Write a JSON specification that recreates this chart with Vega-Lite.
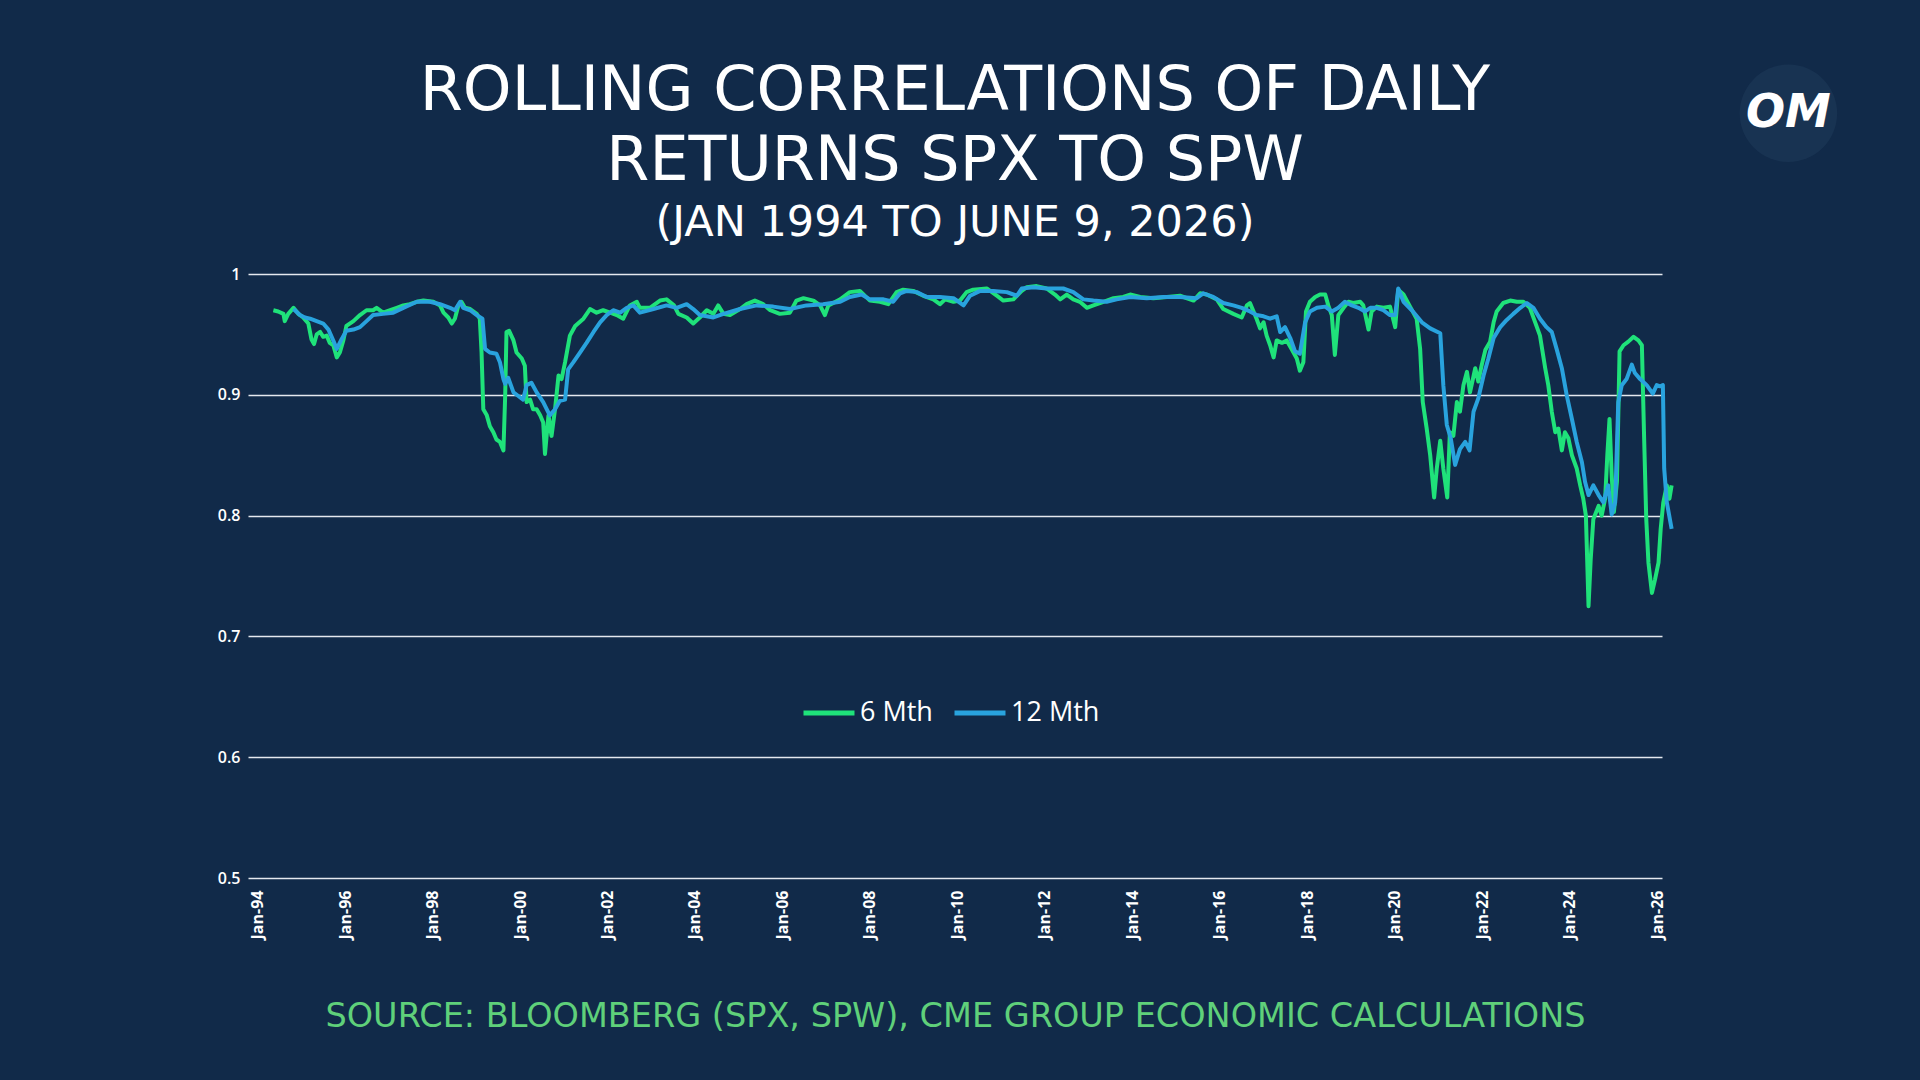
{
  "$schema": "https://vega.github.io/schema/vega-lite/v6.json",
  "width": 1414,
  "height": 604,
  "autosize": "none",
  "padding": {"left": 248, "top": 274, "right": 258, "bottom": 202},
  "background": "#112a49",
  "title": {
    "text": ["ROLLING CORRELATIONS OF DAILY", "RETURNS SPX TO SPW"],
    "subtitle": "(JAN 1994 TO JUNE 9, 2026)",
    "anchor": "middle",
    "color": "#ffffff",
    "font": "DejaVu Sans",
    "fontSize": 62,
    "fontWeight": "normal",
    "lineHeight": 70,
    "subtitleColor": "#ffffff",
    "subtitleFont": "DejaVu Sans",
    "subtitleFontSize": 43,
    "subtitlePadding": 9,
    "offset": -181
  },
  "layer": [
    {
      "data": {
        "values": [
          {"series": "6 Mth", "year": 1994.36, "corr": 0.970},
          {"series": "6 Mth", "year": 1994.47, "corr": 0.969},
          {"series": "6 Mth", "year": 1994.59, "corr": 0.967},
          {"series": "6 Mth", "year": 1994.62, "corr": 0.961},
          {"series": "6 Mth", "year": 1994.70, "corr": 0.967},
          {"series": "6 Mth", "year": 1994.82, "corr": 0.972},
          {"series": "6 Mth", "year": 1994.93, "corr": 0.967},
          {"series": "6 Mth", "year": 1995.04, "corr": 0.964},
          {"series": "6 Mth", "year": 1995.16, "corr": 0.959},
          {"series": "6 Mth", "year": 1995.23, "corr": 0.946},
          {"series": "6 Mth", "year": 1995.29, "corr": 0.942},
          {"series": "6 Mth", "year": 1995.35, "corr": 0.950},
          {"series": "6 Mth", "year": 1995.43, "corr": 0.952},
          {"series": "6 Mth", "year": 1995.50, "corr": 0.948},
          {"series": "6 Mth", "year": 1995.58, "corr": 0.949},
          {"series": "6 Mth", "year": 1995.65, "corr": 0.943},
          {"series": "6 Mth", "year": 1995.73, "corr": 0.941},
          {"series": "6 Mth", "year": 1995.81, "corr": 0.931},
          {"series": "6 Mth", "year": 1995.88, "corr": 0.935},
          {"series": "6 Mth", "year": 1995.96, "corr": 0.945},
          {"series": "6 Mth", "year": 1996.03, "corr": 0.957},
          {"series": "6 Mth", "year": 1996.19, "corr": 0.961},
          {"series": "6 Mth", "year": 1996.34, "corr": 0.966},
          {"series": "6 Mth", "year": 1996.49, "corr": 0.970},
          {"series": "6 Mth", "year": 1996.64, "corr": 0.970},
          {"series": "6 Mth", "year": 1996.72, "corr": 0.972},
          {"series": "6 Mth", "year": 1996.87, "corr": 0.968},
          {"series": "6 Mth", "year": 1997.03, "corr": 0.970},
          {"series": "6 Mth", "year": 1997.18, "corr": 0.972},
          {"series": "6 Mth", "year": 1997.33, "corr": 0.974},
          {"series": "6 Mth", "year": 1997.48, "corr": 0.975},
          {"series": "6 Mth", "year": 1997.64, "corr": 0.977},
          {"series": "6 Mth", "year": 1997.79, "corr": 0.978},
          {"series": "6 Mth", "year": 1998.02, "corr": 0.977},
          {"series": "6 Mth", "year": 1998.17, "corr": 0.974},
          {"series": "6 Mth", "year": 1998.25, "corr": 0.968},
          {"series": "6 Mth", "year": 1998.36, "corr": 0.964},
          {"series": "6 Mth", "year": 1998.44, "corr": 0.959},
          {"series": "6 Mth", "year": 1998.51, "corr": 0.963},
          {"series": "6 Mth", "year": 1998.59, "corr": 0.974},
          {"series": "6 Mth", "year": 1998.66, "corr": 0.977},
          {"series": "6 Mth", "year": 1998.74, "corr": 0.972},
          {"series": "6 Mth", "year": 1998.86, "corr": 0.971},
          {"series": "6 Mth", "year": 1999.01, "corr": 0.967},
          {"series": "6 Mth", "year": 1999.08, "corr": 0.963},
          {"series": "6 Mth", "year": 1999.12, "corr": 0.935},
          {"series": "6 Mth", "year": 1999.16, "corr": 0.888},
          {"series": "6 Mth", "year": 1999.24, "corr": 0.883},
          {"series": "6 Mth", "year": 1999.31, "corr": 0.874},
          {"series": "6 Mth", "year": 1999.39, "corr": 0.869},
          {"series": "6 Mth", "year": 1999.46, "corr": 0.863},
          {"series": "6 Mth", "year": 1999.54, "corr": 0.861},
          {"series": "6 Mth", "year": 1999.62, "corr": 0.854},
          {"series": "6 Mth", "year": 1999.66, "corr": 0.899},
          {"series": "6 Mth", "year": 1999.69, "corr": 0.952},
          {"series": "6 Mth", "year": 1999.75, "corr": 0.953},
          {"series": "6 Mth", "year": 1999.85, "corr": 0.945},
          {"series": "6 Mth", "year": 1999.92, "corr": 0.935},
          {"series": "6 Mth", "year": 2000.04, "corr": 0.930},
          {"series": "6 Mth", "year": 2000.11, "corr": 0.924},
          {"series": "6 Mth", "year": 2000.15, "corr": 0.894},
          {"series": "6 Mth", "year": 2000.23, "corr": 0.896},
          {"series": "6 Mth", "year": 2000.30, "corr": 0.888},
          {"series": "6 Mth", "year": 2000.38, "corr": 0.888},
          {"series": "6 Mth", "year": 2000.46, "corr": 0.883},
          {"series": "6 Mth", "year": 2000.53, "corr": 0.877},
          {"series": "6 Mth", "year": 2000.57, "corr": 0.851},
          {"series": "6 Mth", "year": 2000.65, "corr": 0.883},
          {"series": "6 Mth", "year": 2000.72, "corr": 0.866},
          {"series": "6 Mth", "year": 2000.80, "corr": 0.888},
          {"series": "6 Mth", "year": 2000.88, "corr": 0.916},
          {"series": "6 Mth", "year": 2000.95, "corr": 0.913},
          {"series": "6 Mth", "year": 2001.03, "corr": 0.927},
          {"series": "6 Mth", "year": 2001.14, "corr": 0.949},
          {"series": "6 Mth", "year": 2001.26, "corr": 0.957},
          {"series": "6 Mth", "year": 2001.45, "corr": 0.963},
          {"series": "6 Mth", "year": 2001.60, "corr": 0.971},
          {"series": "6 Mth", "year": 2001.75, "corr": 0.968},
          {"series": "6 Mth", "year": 2001.90, "corr": 0.970},
          {"series": "6 Mth", "year": 2002.06, "corr": 0.968},
          {"series": "6 Mth", "year": 2002.21, "corr": 0.966},
          {"series": "6 Mth", "year": 2002.36, "corr": 0.963},
          {"series": "6 Mth", "year": 2002.51, "corr": 0.974},
          {"series": "6 Mth", "year": 2002.67, "corr": 0.977},
          {"series": "6 Mth", "year": 2002.74, "corr": 0.972},
          {"series": "6 Mth", "year": 2002.97, "corr": 0.972},
          {"series": "6 Mth", "year": 2003.20, "corr": 0.978},
          {"series": "6 Mth", "year": 2003.35, "corr": 0.979},
          {"series": "6 Mth", "year": 2003.52, "corr": 0.974},
          {"series": "6 Mth", "year": 2003.62, "corr": 0.967},
          {"series": "6 Mth", "year": 2003.81, "corr": 0.964},
          {"series": "6 Mth", "year": 2003.96, "corr": 0.959},
          {"series": "6 Mth", "year": 2004.11, "corr": 0.964},
          {"series": "6 Mth", "year": 2004.27, "corr": 0.970},
          {"series": "6 Mth", "year": 2004.42, "corr": 0.967},
          {"series": "6 Mth", "year": 2004.53, "corr": 0.974},
          {"series": "6 Mth", "year": 2004.65, "corr": 0.967},
          {"series": "6 Mth", "year": 2004.80, "corr": 0.966},
          {"series": "6 Mth", "year": 2005.03, "corr": 0.971},
          {"series": "6 Mth", "year": 2005.18, "corr": 0.975},
          {"series": "6 Mth", "year": 2005.37, "corr": 0.978},
          {"series": "6 Mth", "year": 2005.56, "corr": 0.975},
          {"series": "6 Mth", "year": 2005.72, "corr": 0.970},
          {"series": "6 Mth", "year": 2005.94, "corr": 0.967},
          {"series": "6 Mth", "year": 2006.17, "corr": 0.968},
          {"series": "6 Mth", "year": 2006.32, "corr": 0.978},
          {"series": "6 Mth", "year": 2006.48, "corr": 0.980},
          {"series": "6 Mth", "year": 2006.71, "corr": 0.978},
          {"series": "6 Mth", "year": 2006.86, "corr": 0.974},
          {"series": "6 Mth", "year": 2006.97, "corr": 0.966},
          {"series": "6 Mth", "year": 2007.05, "corr": 0.974},
          {"series": "6 Mth", "year": 2007.32, "corr": 0.979},
          {"series": "6 Mth", "year": 2007.54, "corr": 0.985},
          {"series": "6 Mth", "year": 2007.77, "corr": 0.986},
          {"series": "6 Mth", "year": 2008.00, "corr": 0.978},
          {"series": "6 Mth", "year": 2008.23, "corr": 0.977},
          {"series": "6 Mth", "year": 2008.42, "corr": 0.975},
          {"series": "6 Mth", "year": 2008.61, "corr": 0.985},
          {"series": "6 Mth", "year": 2008.76, "corr": 0.987},
          {"series": "6 Mth", "year": 2008.99, "corr": 0.986},
          {"series": "6 Mth", "year": 2009.22, "corr": 0.982},
          {"series": "6 Mth", "year": 2009.45, "corr": 0.979},
          {"series": "6 Mth", "year": 2009.60, "corr": 0.975},
          {"series": "6 Mth", "year": 2009.72, "corr": 0.979},
          {"series": "6 Mth", "year": 2009.91, "corr": 0.977},
          {"series": "6 Mth", "year": 2010.06, "corr": 0.978},
          {"series": "6 Mth", "year": 2010.21, "corr": 0.985},
          {"series": "6 Mth", "year": 2010.36, "corr": 0.987},
          {"series": "6 Mth", "year": 2010.67, "corr": 0.988},
          {"series": "6 Mth", "year": 2010.90, "corr": 0.982},
          {"series": "6 Mth", "year": 2011.05, "corr": 0.978},
          {"series": "6 Mth", "year": 2011.28, "corr": 0.979},
          {"series": "6 Mth", "year": 2011.47, "corr": 0.986},
          {"series": "6 Mth", "year": 2011.58, "corr": 0.989},
          {"series": "6 Mth", "year": 2011.81, "corr": 0.990},
          {"series": "6 Mth", "year": 2012.04, "corr": 0.988},
          {"series": "6 Mth", "year": 2012.23, "corr": 0.983},
          {"series": "6 Mth", "year": 2012.35, "corr": 0.979},
          {"series": "6 Mth", "year": 2012.50, "corr": 0.983},
          {"series": "6 Mth", "year": 2012.65, "corr": 0.979},
          {"series": "6 Mth", "year": 2012.80, "corr": 0.977},
          {"series": "6 Mth", "year": 2012.96, "corr": 0.972},
          {"series": "6 Mth", "year": 2013.11, "corr": 0.974},
          {"series": "6 Mth", "year": 2013.34, "corr": 0.977},
          {"series": "6 Mth", "year": 2013.57, "corr": 0.980},
          {"series": "6 Mth", "year": 2013.79, "corr": 0.981},
          {"series": "6 Mth", "year": 2013.95, "corr": 0.983},
          {"series": "6 Mth", "year": 2014.18, "corr": 0.981},
          {"series": "6 Mth", "year": 2014.48, "corr": 0.980},
          {"series": "6 Mth", "year": 2014.79, "corr": 0.981},
          {"series": "6 Mth", "year": 2015.09, "corr": 0.982},
          {"series": "6 Mth", "year": 2015.40, "corr": 0.978},
          {"series": "6 Mth", "year": 2015.55, "corr": 0.984},
          {"series": "6 Mth", "year": 2015.70, "corr": 0.983},
          {"series": "6 Mth", "year": 2015.93, "corr": 0.979},
          {"series": "6 Mth", "year": 2016.08, "corr": 0.971},
          {"series": "6 Mth", "year": 2016.31, "corr": 0.967},
          {"series": "6 Mth", "year": 2016.50, "corr": 0.964},
          {"series": "6 Mth", "year": 2016.62, "corr": 0.974},
          {"series": "6 Mth", "year": 2016.69, "corr": 0.976},
          {"series": "6 Mth", "year": 2016.84, "corr": 0.963},
          {"series": "6 Mth", "year": 2016.92, "corr": 0.955},
          {"series": "6 Mth", "year": 2017.00, "corr": 0.960},
          {"series": "6 Mth", "year": 2017.07, "corr": 0.949},
          {"series": "6 Mth", "year": 2017.15, "corr": 0.941},
          {"series": "6 Mth", "year": 2017.23, "corr": 0.931},
          {"series": "6 Mth", "year": 2017.30, "corr": 0.945},
          {"series": "6 Mth", "year": 2017.42, "corr": 0.943},
          {"series": "6 Mth", "year": 2017.53, "corr": 0.945},
          {"series": "6 Mth", "year": 2017.64, "corr": 0.938},
          {"series": "6 Mth", "year": 2017.76, "corr": 0.930},
          {"series": "6 Mth", "year": 2017.83, "corr": 0.920},
          {"series": "6 Mth", "year": 2017.91, "corr": 0.927},
          {"series": "6 Mth", "year": 2017.97, "corr": 0.969},
          {"series": "6 Mth", "year": 2018.06, "corr": 0.977},
          {"series": "6 Mth", "year": 2018.18, "corr": 0.981},
          {"series": "6 Mth", "year": 2018.29, "corr": 0.983},
          {"series": "6 Mth", "year": 2018.41, "corr": 0.983},
          {"series": "6 Mth", "year": 2018.48, "corr": 0.974},
          {"series": "6 Mth", "year": 2018.56, "corr": 0.966},
          {"series": "6 Mth", "year": 2018.63, "corr": 0.933},
          {"series": "6 Mth", "year": 2018.71, "corr": 0.966},
          {"series": "6 Mth", "year": 2018.83, "corr": 0.972},
          {"series": "6 Mth", "year": 2018.94, "corr": 0.977},
          {"series": "6 Mth", "year": 2019.05, "corr": 0.976},
          {"series": "6 Mth", "year": 2019.21, "corr": 0.977},
          {"series": "6 Mth", "year": 2019.28, "corr": 0.974},
          {"series": "6 Mth", "year": 2019.40, "corr": 0.954},
          {"series": "6 Mth", "year": 2019.47, "corr": 0.969},
          {"series": "6 Mth", "year": 2019.59, "corr": 0.973},
          {"series": "6 Mth", "year": 2019.74, "corr": 0.972},
          {"series": "6 Mth", "year": 2019.89, "corr": 0.973},
          {"series": "6 Mth", "year": 2020.01, "corr": 0.956},
          {"series": "6 Mth", "year": 2020.08, "corr": 0.987},
          {"series": "6 Mth", "year": 2020.20, "corr": 0.983},
          {"series": "6 Mth", "year": 2020.35, "corr": 0.973},
          {"series": "6 Mth", "year": 2020.50, "corr": 0.963},
          {"series": "6 Mth", "year": 2020.58, "corr": 0.938},
          {"series": "6 Mth", "year": 2020.64, "corr": 0.894},
          {"series": "6 Mth", "year": 2020.73, "corr": 0.872},
          {"series": "6 Mth", "year": 2020.81, "corr": 0.850},
          {"series": "6 Mth", "year": 2020.90, "corr": 0.815},
          {"series": "6 Mth", "year": 2020.96, "corr": 0.839},
          {"series": "6 Mth", "year": 2021.04, "corr": 0.862},
          {"series": "6 Mth", "year": 2021.11, "corr": 0.839},
          {"series": "6 Mth", "year": 2021.20, "corr": 0.815},
          {"series": "6 Mth", "year": 2021.26, "corr": 0.869},
          {"series": "6 Mth", "year": 2021.34, "corr": 0.866},
          {"series": "6 Mth", "year": 2021.42, "corr": 0.894},
          {"series": "6 Mth", "year": 2021.49, "corr": 0.886},
          {"series": "6 Mth", "year": 2021.57, "corr": 0.908},
          {"series": "6 Mth", "year": 2021.65, "corr": 0.919},
          {"series": "6 Mth", "year": 2021.72, "corr": 0.902},
          {"series": "6 Mth", "year": 2021.84, "corr": 0.922},
          {"series": "6 Mth", "year": 2021.91, "corr": 0.911},
          {"series": "6 Mth", "year": 2021.99, "corr": 0.925},
          {"series": "6 Mth", "year": 2022.07, "corr": 0.937},
          {"series": "6 Mth", "year": 2022.18, "corr": 0.944},
          {"series": "6 Mth", "year": 2022.26, "corr": 0.960},
          {"series": "6 Mth", "year": 2022.33, "corr": 0.969},
          {"series": "6 Mth", "year": 2022.48, "corr": 0.976},
          {"series": "6 Mth", "year": 2022.64, "corr": 0.978},
          {"series": "6 Mth", "year": 2022.79, "corr": 0.977},
          {"series": "6 Mth", "year": 2022.94, "corr": 0.977},
          {"series": "6 Mth", "year": 2023.09, "corr": 0.972},
          {"series": "6 Mth", "year": 2023.21, "corr": 0.960},
          {"series": "6 Mth", "year": 2023.32, "corr": 0.949},
          {"series": "6 Mth", "year": 2023.44, "corr": 0.922},
          {"series": "6 Mth", "year": 2023.51, "corr": 0.908},
          {"series": "6 Mth", "year": 2023.59, "corr": 0.886},
          {"series": "6 Mth", "year": 2023.67, "corr": 0.869},
          {"series": "6 Mth", "year": 2023.74, "corr": 0.872},
          {"series": "6 Mth", "year": 2023.82, "corr": 0.854},
          {"series": "6 Mth", "year": 2023.89, "corr": 0.869},
          {"series": "6 Mth", "year": 2023.97, "corr": 0.864},
          {"series": "6 Mth", "year": 2024.05, "corr": 0.850},
          {"series": "6 Mth", "year": 2024.16, "corr": 0.839},
          {"series": "6 Mth", "year": 2024.24, "corr": 0.825},
          {"series": "6 Mth", "year": 2024.31, "corr": 0.814},
          {"series": "6 Mth", "year": 2024.37, "corr": 0.800},
          {"series": "6 Mth", "year": 2024.43, "corr": 0.725},
          {"series": "6 Mth", "year": 2024.48, "corr": 0.764},
          {"series": "6 Mth", "year": 2024.54, "corr": 0.797},
          {"series": "6 Mth", "year": 2024.66, "corr": 0.808},
          {"series": "6 Mth", "year": 2024.73, "corr": 0.800},
          {"series": "6 Mth", "year": 2024.81, "corr": 0.814},
          {"series": "6 Mth", "year": 2024.86, "corr": 0.850},
          {"series": "6 Mth", "year": 2024.91, "corr": 0.880},
          {"series": "6 Mth", "year": 2024.96, "corr": 0.833},
          {"series": "6 Mth", "year": 2025.01, "corr": 0.803},
          {"series": "6 Mth", "year": 2025.08, "corr": 0.828},
          {"series": "6 Mth", "year": 2025.14, "corr": 0.936},
          {"series": "6 Mth", "year": 2025.23, "corr": 0.941},
          {"series": "6 Mth", "year": 2025.34, "corr": 0.944},
          {"series": "6 Mth", "year": 2025.46, "corr": 0.948},
          {"series": "6 Mth", "year": 2025.57, "corr": 0.945},
          {"series": "6 Mth", "year": 2025.65, "corr": 0.941},
          {"series": "6 Mth", "year": 2025.70, "corr": 0.866},
          {"series": "6 Mth", "year": 2025.75, "corr": 0.797},
          {"series": "6 Mth", "year": 2025.80, "corr": 0.761},
          {"series": "6 Mth", "year": 2025.88, "corr": 0.736},
          {"series": "6 Mth", "year": 2025.95, "corr": 0.747},
          {"series": "6 Mth", "year": 2026.03, "corr": 0.761},
          {"series": "6 Mth", "year": 2026.08, "corr": 0.789},
          {"series": "6 Mth", "year": 2026.14, "corr": 0.811},
          {"series": "6 Mth", "year": 2026.22, "corr": 0.825},
          {"series": "6 Mth", "year": 2026.28, "corr": 0.814},
          {"series": "6 Mth", "year": 2026.33, "corr": 0.825},
          {"series": "12 Mth", "year": 1994.82, "corr": 0.971},
          {"series": "12 Mth", "year": 1994.97, "corr": 0.966},
          {"series": "12 Mth", "year": 1995.08, "corr": 0.964},
          {"series": "12 Mth", "year": 1995.20, "corr": 0.963},
          {"series": "12 Mth", "year": 1995.35, "corr": 0.961},
          {"series": "12 Mth", "year": 1995.50, "corr": 0.959},
          {"series": "12 Mth", "year": 1995.62, "corr": 0.954},
          {"series": "12 Mth", "year": 1995.73, "corr": 0.945},
          {"series": "12 Mth", "year": 1995.81, "corr": 0.938},
          {"series": "12 Mth", "year": 1995.92, "corr": 0.946},
          {"series": "12 Mth", "year": 1996.03, "corr": 0.953},
          {"series": "12 Mth", "year": 1996.19, "corr": 0.954},
          {"series": "12 Mth", "year": 1996.34, "corr": 0.956},
          {"series": "12 Mth", "year": 1996.49, "corr": 0.961},
          {"series": "12 Mth", "year": 1996.64, "corr": 0.966},
          {"series": "12 Mth", "year": 1996.87, "corr": 0.967},
          {"series": "12 Mth", "year": 1997.10, "corr": 0.968},
          {"series": "12 Mth", "year": 1997.33, "corr": 0.972},
          {"series": "12 Mth", "year": 1997.64, "corr": 0.977},
          {"series": "12 Mth", "year": 1997.94, "corr": 0.977},
          {"series": "12 Mth", "year": 1998.17, "corr": 0.975},
          {"series": "12 Mth", "year": 1998.40, "corr": 0.972},
          {"series": "12 Mth", "year": 1998.51, "corr": 0.970},
          {"series": "12 Mth", "year": 1998.63, "corr": 0.977},
          {"series": "12 Mth", "year": 1998.70, "corr": 0.972},
          {"series": "12 Mth", "year": 1998.86, "corr": 0.970},
          {"series": "12 Mth", "year": 1999.01, "corr": 0.966},
          {"series": "12 Mth", "year": 1999.14, "corr": 0.963},
          {"series": "12 Mth", "year": 1999.20, "corr": 0.938},
          {"series": "12 Mth", "year": 1999.31, "corr": 0.935},
          {"series": "12 Mth", "year": 1999.46, "corr": 0.934},
          {"series": "12 Mth", "year": 1999.54, "corr": 0.927},
          {"series": "12 Mth", "year": 1999.62, "corr": 0.913},
          {"series": "12 Mth", "year": 1999.66, "corr": 0.909},
          {"series": "12 Mth", "year": 1999.73, "corr": 0.914},
          {"series": "12 Mth", "year": 1999.85, "corr": 0.902},
          {"series": "12 Mth", "year": 1999.96, "corr": 0.899},
          {"series": "12 Mth", "year": 2000.07, "corr": 0.896},
          {"series": "12 Mth", "year": 2000.15, "corr": 0.908},
          {"series": "12 Mth", "year": 2000.26, "corr": 0.910},
          {"series": "12 Mth", "year": 2000.38, "corr": 0.902},
          {"series": "12 Mth", "year": 2000.53, "corr": 0.894},
          {"series": "12 Mth", "year": 2000.68, "corr": 0.883},
          {"series": "12 Mth", "year": 2000.80, "corr": 0.888},
          {"series": "12 Mth", "year": 2000.91, "corr": 0.895},
          {"series": "12 Mth", "year": 2001.03, "corr": 0.896},
          {"series": "12 Mth", "year": 2001.10, "corr": 0.921},
          {"series": "12 Mth", "year": 2001.22, "corr": 0.927},
          {"series": "12 Mth", "year": 2001.37, "corr": 0.935},
          {"series": "12 Mth", "year": 2001.52, "corr": 0.943},
          {"series": "12 Mth", "year": 2001.68, "corr": 0.952},
          {"series": "12 Mth", "year": 2001.83, "corr": 0.960},
          {"series": "12 Mth", "year": 2001.98, "corr": 0.966},
          {"series": "12 Mth", "year": 2002.13, "corr": 0.970},
          {"series": "12 Mth", "year": 2002.29, "corr": 0.968},
          {"series": "12 Mth", "year": 2002.44, "corr": 0.972},
          {"series": "12 Mth", "year": 2002.59, "corr": 0.974},
          {"series": "12 Mth", "year": 2002.74, "corr": 0.968},
          {"series": "12 Mth", "year": 2003.05, "corr": 0.971},
          {"series": "12 Mth", "year": 2003.35, "corr": 0.974},
          {"series": "12 Mth", "year": 2003.58, "corr": 0.972},
          {"series": "12 Mth", "year": 2003.81, "corr": 0.975},
          {"series": "12 Mth", "year": 2003.96, "corr": 0.971},
          {"series": "12 Mth", "year": 2004.11, "corr": 0.966},
          {"series": "12 Mth", "year": 2004.42, "corr": 0.964},
          {"series": "12 Mth", "year": 2004.65, "corr": 0.967},
          {"series": "12 Mth", "year": 2005.03, "corr": 0.971},
          {"series": "12 Mth", "year": 2005.41, "corr": 0.974},
          {"series": "12 Mth", "year": 2005.79, "corr": 0.973},
          {"series": "12 Mth", "year": 2006.17, "corr": 0.971},
          {"series": "12 Mth", "year": 2006.55, "corr": 0.974},
          {"series": "12 Mth", "year": 2006.93, "corr": 0.975},
          {"series": "12 Mth", "year": 2007.32, "corr": 0.977},
          {"series": "12 Mth", "year": 2007.54, "corr": 0.981},
          {"series": "12 Mth", "year": 2007.81, "corr": 0.983},
          {"series": "12 Mth", "year": 2008.00, "corr": 0.979},
          {"series": "12 Mth", "year": 2008.31, "corr": 0.979},
          {"series": "12 Mth", "year": 2008.53, "corr": 0.977},
          {"series": "12 Mth", "year": 2008.69, "corr": 0.984},
          {"series": "12 Mth", "year": 2008.84, "corr": 0.986},
          {"series": "12 Mth", "year": 2009.07, "corr": 0.985},
          {"series": "12 Mth", "year": 2009.30, "corr": 0.981},
          {"series": "12 Mth", "year": 2009.60, "corr": 0.981},
          {"series": "12 Mth", "year": 2009.91, "corr": 0.980},
          {"series": "12 Mth", "year": 2010.14, "corr": 0.974},
          {"series": "12 Mth", "year": 2010.29, "corr": 0.982},
          {"series": "12 Mth", "year": 2010.52, "corr": 0.986},
          {"series": "12 Mth", "year": 2010.82, "corr": 0.986},
          {"series": "12 Mth", "year": 2011.13, "corr": 0.985},
          {"series": "12 Mth", "year": 2011.36, "corr": 0.982},
          {"series": "12 Mth", "year": 2011.47, "corr": 0.988},
          {"series": "12 Mth", "year": 2011.74, "corr": 0.989},
          {"series": "12 Mth", "year": 2012.04, "corr": 0.988},
          {"series": "12 Mth", "year": 2012.42, "corr": 0.988},
          {"series": "12 Mth", "year": 2012.65, "corr": 0.985},
          {"series": "12 Mth", "year": 2012.88, "corr": 0.979},
          {"series": "12 Mth", "year": 2013.11, "corr": 0.978},
          {"series": "12 Mth", "year": 2013.41, "corr": 0.977},
          {"series": "12 Mth", "year": 2013.64, "corr": 0.979},
          {"series": "12 Mth", "year": 2013.95, "corr": 0.981},
          {"series": "12 Mth", "year": 2014.33, "corr": 0.980},
          {"series": "12 Mth", "year": 2014.71, "corr": 0.981},
          {"series": "12 Mth", "year": 2015.09, "corr": 0.981},
          {"series": "12 Mth", "year": 2015.47, "corr": 0.980},
          {"series": "12 Mth", "year": 2015.62, "corr": 0.984},
          {"series": "12 Mth", "year": 2015.85, "corr": 0.981},
          {"series": "12 Mth", "year": 2016.08, "corr": 0.976},
          {"series": "12 Mth", "year": 2016.31, "corr": 0.974},
          {"series": "12 Mth", "year": 2016.50, "corr": 0.972},
          {"series": "12 Mth", "year": 2016.69, "corr": 0.969},
          {"series": "12 Mth", "year": 2016.84, "corr": 0.966},
          {"series": "12 Mth", "year": 2017.00, "corr": 0.965},
          {"series": "12 Mth", "year": 2017.15, "corr": 0.963},
          {"series": "12 Mth", "year": 2017.30, "corr": 0.965},
          {"series": "12 Mth", "year": 2017.38, "corr": 0.952},
          {"series": "12 Mth", "year": 2017.49, "corr": 0.956},
          {"series": "12 Mth", "year": 2017.61, "corr": 0.947},
          {"series": "12 Mth", "year": 2017.72, "corr": 0.936},
          {"series": "12 Mth", "year": 2017.83, "corr": 0.934},
          {"series": "12 Mth", "year": 2017.95, "corr": 0.960},
          {"series": "12 Mth", "year": 2018.06, "corr": 0.969},
          {"series": "12 Mth", "year": 2018.22, "corr": 0.972},
          {"series": "12 Mth", "year": 2018.41, "corr": 0.973},
          {"series": "12 Mth", "year": 2018.56, "corr": 0.969},
          {"series": "12 Mth", "year": 2018.71, "corr": 0.972},
          {"series": "12 Mth", "year": 2018.86, "corr": 0.977},
          {"series": "12 Mth", "year": 2019.02, "corr": 0.974},
          {"series": "12 Mth", "year": 2019.17, "corr": 0.972},
          {"series": "12 Mth", "year": 2019.32, "corr": 0.969},
          {"series": "12 Mth", "year": 2019.44, "corr": 0.972},
          {"series": "12 Mth", "year": 2019.59, "corr": 0.972},
          {"series": "12 Mth", "year": 2019.74, "corr": 0.970},
          {"series": "12 Mth", "year": 2019.89, "corr": 0.966},
          {"series": "12 Mth", "year": 2020.01, "corr": 0.966},
          {"series": "12 Mth", "year": 2020.08, "corr": 0.988},
          {"series": "12 Mth", "year": 2020.20, "corr": 0.977},
          {"series": "12 Mth", "year": 2020.39, "corr": 0.970},
          {"series": "12 Mth", "year": 2020.62, "corr": 0.960},
          {"series": "12 Mth", "year": 2020.81, "corr": 0.955},
          {"series": "12 Mth", "year": 2021.04, "corr": 0.951},
          {"series": "12 Mth", "year": 2021.11, "corr": 0.908},
          {"series": "12 Mth", "year": 2021.19, "corr": 0.875},
          {"series": "12 Mth", "year": 2021.28, "corr": 0.864},
          {"series": "12 Mth", "year": 2021.38, "corr": 0.842},
          {"series": "12 Mth", "year": 2021.49, "corr": 0.855},
          {"series": "12 Mth", "year": 2021.61, "corr": 0.861},
          {"series": "12 Mth", "year": 2021.71, "corr": 0.854},
          {"series": "12 Mth", "year": 2021.80, "corr": 0.886},
          {"series": "12 Mth", "year": 2021.91, "corr": 0.897},
          {"series": "12 Mth", "year": 2022.03, "corr": 0.916},
          {"series": "12 Mth", "year": 2022.14, "corr": 0.930},
          {"series": "12 Mth", "year": 2022.26, "corr": 0.947},
          {"series": "12 Mth", "year": 2022.41, "corr": 0.956},
          {"series": "12 Mth", "year": 2022.56, "corr": 0.962},
          {"series": "12 Mth", "year": 2022.71, "corr": 0.967},
          {"series": "12 Mth", "year": 2022.87, "corr": 0.972},
          {"series": "12 Mth", "year": 2023.02, "corr": 0.976},
          {"series": "12 Mth", "year": 2023.17, "corr": 0.972},
          {"series": "12 Mth", "year": 2023.32, "corr": 0.963},
          {"series": "12 Mth", "year": 2023.47, "corr": 0.956},
          {"series": "12 Mth", "year": 2023.59, "corr": 0.952},
          {"series": "12 Mth", "year": 2023.70, "corr": 0.938},
          {"series": "12 Mth", "year": 2023.82, "corr": 0.922},
          {"series": "12 Mth", "year": 2023.93, "corr": 0.900},
          {"series": "12 Mth", "year": 2024.05, "corr": 0.880},
          {"series": "12 Mth", "year": 2024.16, "corr": 0.861},
          {"series": "12 Mth", "year": 2024.28, "corr": 0.844},
          {"series": "12 Mth", "year": 2024.35, "corr": 0.828},
          {"series": "12 Mth", "year": 2024.43, "corr": 0.817},
          {"series": "12 Mth", "year": 2024.54, "corr": 0.825},
          {"series": "12 Mth", "year": 2024.66, "corr": 0.817},
          {"series": "12 Mth", "year": 2024.77, "corr": 0.811},
          {"series": "12 Mth", "year": 2024.88, "corr": 0.825},
          {"series": "12 Mth", "year": 2024.96, "corr": 0.801},
          {"series": "12 Mth", "year": 2025.04, "corr": 0.811},
          {"series": "12 Mth", "year": 2025.11, "corr": 0.894},
          {"series": "12 Mth", "year": 2025.19, "corr": 0.908},
          {"series": "12 Mth", "year": 2025.30, "corr": 0.913},
          {"series": "12 Mth", "year": 2025.42, "corr": 0.925},
          {"series": "12 Mth", "year": 2025.49, "corr": 0.918},
          {"series": "12 Mth", "year": 2025.61, "corr": 0.913},
          {"series": "12 Mth", "year": 2025.76, "corr": 0.908},
          {"series": "12 Mth", "year": 2025.90, "corr": 0.901},
          {"series": "12 Mth", "year": 2025.99, "corr": 0.908},
          {"series": "12 Mth", "year": 2026.07, "corr": 0.907},
          {"series": "12 Mth", "year": 2026.13, "corr": 0.908},
          {"series": "12 Mth", "year": 2026.16, "corr": 0.839},
          {"series": "12 Mth", "year": 2026.22, "corr": 0.811},
          {"series": "12 Mth", "year": 2026.33, "corr": 0.789}
        ]
      },
      "mark": {"type": "line", "strokeWidth": 4, "strokeJoin": "round"},
      "encoding": {
        "x": {
          "field": "year",
          "type": "quantitative",
          "scale": {"domain": [1993.78, 2026.11], "nice": false, "zero": false},
          "axis": {
            "values": [1994, 1996, 1998, 2000, 2002, 2004, 2006, 2008, 2010, 2012, 2014, 2016, 2018, 2020, 2022, 2024, 2026],
            "labelExpr": "'Jan-' + substring(toString(datum.value), 2, 4)",
            "labelAngle": -90,
            "labelPadding": 12,
            "labelFont": "Open Sans",
            "labelFontWeight": "bold",
            "labelFontSize": 16,
            "grid": false,
            "title": "SOURCE: BLOOMBERG (SPX, SPW), CME GROUP ECONOMIC CALCULATIONS",
            "titleColor": "#5fd07a",
            "titleFont": "DejaVu Sans",
            "titleFontSize": 33.5,
            "titleFontWeight": "normal",
            "titlePadding": 62
          }
        },
        "y": {
          "field": "corr",
          "type": "quantitative",
          "scale": {"domain": [0.5, 1], "nice": false, "zero": false},
          "axis": {
            "values": [0.5, 0.6, 0.7, 0.8, 0.9, 1],
            "format": ".1~f",
            "labelPadding": 8,
            "labelFont": "Open Sans",
            "labelFontWeight": 600,
            "labelFontSize": 16,
            "grid": true,
            "gridColor": "#e4e8ee",
            "gridWidth": 1.6,
            "title": null
          }
        },
        "color": {
          "field": "series",
          "type": "nominal",
          "sort": ["6 Mth", "12 Mth"],
          "scale": {"domain": ["6 Mth", "12 Mth"], "range": ["#1fe27a", "#29a3de"]},
          "legend": {
            "title": null,
            "orient": "none",
            "legendX": 553,
            "legendY": 411,
            "direction": "horizontal",
            "padding": 0,
            "labelColor": "#ffffff",
            "labelFont": "Open Sans",
            "labelFontSize": 27,
            "labelOffset": 3,
            "columnPadding": 11,
            "symbolType": "stroke",
            "symbolStrokeWidth": 5,
            "symbolSize": 2600
          }
        }
      }
    },
    {
      "data": {"values": [{"logo": "OM"}]},
      "mark": {"type": "point", "filled": true, "color": "#1a3453", "opacity": 0.9, "size": 9500},
      "encoding": {
        "x": {"datum": 2029, "type": "quantitative"},
        "y": {"datum": 1.133, "type": "quantitative"}
      }
    },
    {
      "data": {"values": [{"logo": "OM"}]},
      "mark": {"type": "text", "color": "#ffffff", "font": "DejaVu Sans", "fontSize": 46, "fontWeight": "bold", "fontStyle": "italic", "baseline": "middle", "align": "center"},
      "encoding": {
        "x": {"datum": 2029, "type": "quantitative"},
        "y": {"datum": 1.133, "type": "quantitative"},
        "text": {"field": "logo"}
      }
    }
  ],
  "config": {
    "view": {"stroke": null},
    "axis": {"domain": false, "ticks": false, "labelColor": "#ffffff"}
  }
}
